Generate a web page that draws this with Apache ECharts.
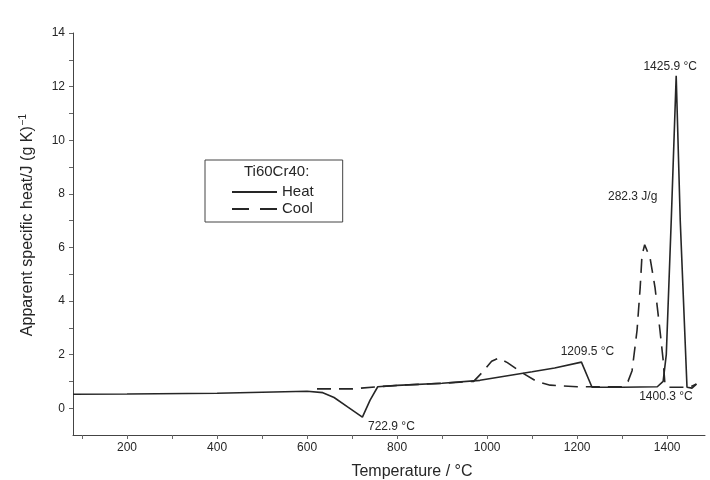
<!DOCTYPE html>
<html lang="en">
<head>
    <meta charset="UTF-8">
    <title>Ti60Cr40 DSC</title>
    <script src="https://cdn.jsdelivr.net/npm/echarts@6.0.0/dist/echarts.min.js"></script>
    <style>
        body {
            padding: 0;
            margin: 0;
            border: none;
            background: #fff;
        }
    </style>
</head>
<body>
<div style="width: 710px;height: 480px;" id="ec"></div>
<script>
    // heating curve (solid)
    const heatT = [80, 200, 400, 600, 635, 660, 690, 722.9, 740, 757, 800, 900, 984, 1100, 1150, 1209.5, 1233, 1300, 1378, 1391, 1398, 1409, 1420, 1429, 1444, 1455, 1465];
    const heatCp = [0.52, 0.53, 0.56, 0.63, 0.58, 0.4, 0.05, -0.33, 0.3, 0.8, 0.85, 0.93, 1.04, 1.36, 1.5, 1.72, 0.78, 0.78, 0.8, 1.0, 2.0, 7.0, 12.4, 7.0, 0.78, 0.75, 0.9];
    // cooling curve (dashed)
    const coolT = [622, 700, 757, 800, 900, 970, 990, 1010, 1025, 1045, 1080, 1110, 1140, 1200, 1300, 1313, 1322, 1333, 1340, 1344, 1350, 1362, 1373, 1384, 1391, 1395, 1400, 1450, 1465];
    const coolCp = [0.72, 0.72, 0.8, 0.85, 0.93, 1.0, 1.35, 1.75, 1.87, 1.7, 1.3, 1.0, 0.86, 0.8, 0.8, 1.0, 1.4, 2.9, 4.5, 5.7, 6.1, 5.6, 4.5, 2.9, 1.8, 0.9, 0.78, 0.78, 0.9];

    const xLabels = [200, 400, 600, 800, 1000, 1200, 1400];
    const xTicks = [100, 200, 300, 400, 500, 600, 700, 800, 900, 1000, 1100, 1200, 1300, 1400];
    const yLabels = [0, 2, 4, 6, 8, 10, 12, 14];
    const yTicks = [0, 1, 2, 3, 4, 5, 6, 7, 8, 9, 10, 11, 12, 13, 14];

    const heatNotes = [
        {text: '1425.9 °C', at: [1420, 12.4], offset: [-6, -9]},
        {text: '1209.5 °C', at: [1209.5, 1.72], offset: [6, -10]},
        {text: '722.9 °C', at: [722.9, -0.33], offset: [29, 10]}
    ];
    const coolNotes = [
        {text: '282.3 J/g', at: [1350, 6.1], offset: [-12, -48]},
        {text: '1400.3 °C', at: [1395, 0.9], offset: [1, 13]}
    ];

    const font = "'Liberation Sans', Arial, sans-serif";
    const ink = '#262626';

    function pairs(xs, ys) {
        return xs.map((x, i) => [x, ys[i]]);
    }
    function marks(notes) {
        return {
            symbol: 'circle',
            symbolSize: 0,
            silent: true,
            label: {
                show: true,
                position: 'inside',
                color: ink,
                fontFamily: font,
                fontSize: 12
            },
            data: notes.map(n => ({
                coord: n.at,
                value: n.text,
                label: {formatter: n.text, offset: n.offset}
            }))
        };
    }

    let ec = echarts.init(document.getElementById('ec'));
    let option = {
        backgroundColor: '#fff',
        animation: false,
        textStyle: {fontFamily: font, color: ink},
        grid: {
            left: 73,
            right: 5,
            top: 33,
            bottom: 45,
            outerBoundsMode: 'none'
        },
        legend: {
            orient: 'vertical',
            left: 205,
            top: 160,
            padding: [24, 29, 5, 26],
            borderColor: '#444',
            borderWidth: 1,
            itemWidth: 45,
            itemHeight: 14,
            itemGap: 1,
            itemStyle: {opacity: 0},
            textStyle: {fontFamily: font, fontSize: 15, lineHeight: 16, color: ink},
            data: ['Heat', {name: 'Cool', lineStyle: {type: [17, 11]}}]
        },
        graphic: [{
            type: 'text',
            left: 244,
            top: 164,
            style: {text: 'Ti60Cr40:', font: '15px ' + font, fill: ink}
        }],
        xAxis: {
            type: 'value',
            min: 80,
            max: 1484,
            name: 'Temperature / °C',
            nameLocation: 'middle',
            nameGap: 29,
            nameTextStyle: {fontSize: 16, color: ink, padding: [0, 0, 0, 46]},
            axisLine: {onZero: false, lineStyle: {color: '#444', width: 1}},
            axisTick: {show: true, length: 4, customValues: xTicks, lineStyle: {color: '#666'}},
            axisLabel: {margin: 7, fontSize: 12, color: ink, customValues: xLabels, formatter: v => String(v)},
            splitLine: {show: false}
        },
        yAxis: {
            type: 'value',
            min: -1,
            max: 14,
            name: '{a|Apparent specific heat/J (g K)}{s|−1}',
            nameLocation: 'middle',
            nameGap: 36,
            nameTextStyle: {
                padding: [0, 0, 0, 18],
                rich: {
                    a: {fontSize: 16, color: ink, fontFamily: font},
                    s: {fontSize: 10, color: ink, fontFamily: font, padding: [0, 0, 9, 1]}
                }
            },
            axisLine: {show: true, onZero: false, lineStyle: {color: '#444', width: 1}},
            axisTick: {show: true, length: 4, customValues: yTicks, lineStyle: {color: '#666'}},
            axisLabel: {margin: 8, fontSize: 12, color: ink, customValues: yLabels},
            splitLine: {show: false}
        },
        series: [{
            name: 'Heat',
            type: 'line',
            symbol: 'none',
            lineStyle: {color: ink, width: 1.6},
            itemStyle: {color: ink},
            data: pairs(heatT, heatCp),
            markPoint: marks(heatNotes)
        }, {
            name: 'Cool',
            type: 'line',
            symbol: 'none',
            lineStyle: {color: ink, width: 1.6, type: [14, 8]},
            itemStyle: {color: ink},
            data: pairs(coolT, coolCp),
            markPoint: marks(coolNotes)
        }]
    };
    ec.setOption(option);
</script>
</body>
</html>
